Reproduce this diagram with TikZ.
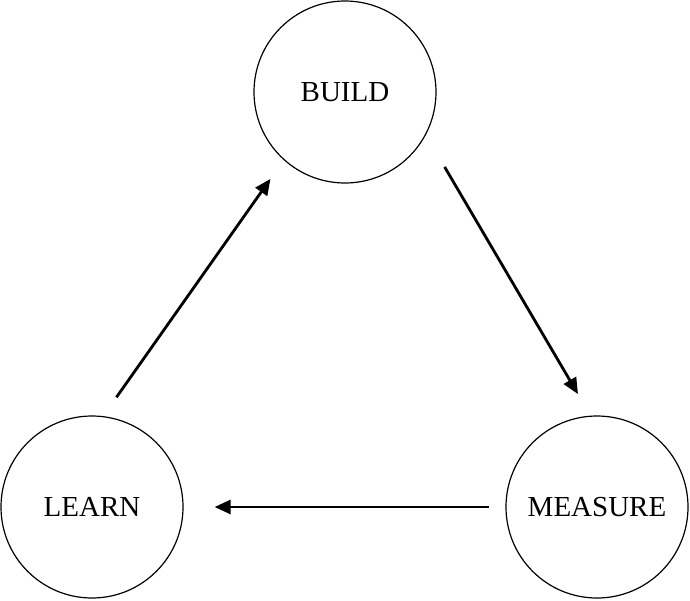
\documentclass[tikz,border=0pt]{standalone}
\usepackage{fontspec}
\setmainfont{Liberation Serif}
\usetikzlibrary{arrows.meta}
\begin{document}
\begin{tikzpicture}[x=1pt,y=-1pt,
  stage/.style={circle,draw,line width=1.2pt,minimum size=182pt,inner sep=0pt,
    font=\fontsize{29}{33}\selectfont},
  flow/.style={line width=2.8pt,-{Triangle[length=16pt,width=14pt]}}]
\useasboundingbox (0,0) rectangle (690,600);
\node[stage] (build) at (345,92) {BUILD};
\node[stage] (learn) at (92,507) {LEARN};
\node[stage] (measure) at (597,507) {MEASURE};
\draw[flow,shorten <=37pt,shorten >=25pt] (build.-28) -- (measure.94);
\draw[flow,shorten <=16pt,shorten >=31pt] (measure.180) -- (learn.0);
\draw[flow,shorten <=23pt,shorten >=23pt] (learn.83) -- (build.228);
\end{tikzpicture}
\end{document}
